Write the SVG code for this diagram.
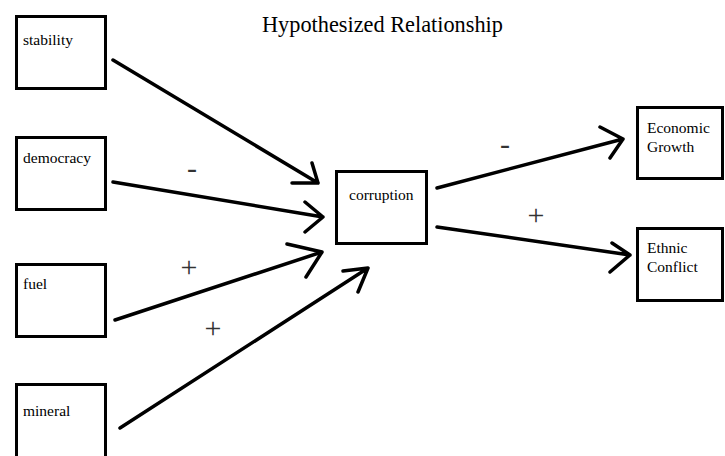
<svg xmlns="http://www.w3.org/2000/svg" width="725" height="456" viewBox="0 0 725 456">
<style>
  .box{fill:#fff;stroke:#000;stroke-width:3}
  .lbl{font-family:"Liberation Serif","Times New Roman",serif;font-size:15.5px;fill:#000}
  .title{font-family:"Liberation Serif","Times New Roman",serif;font-size:22.3px;fill:#000}
  .sign{font-family:"Liberation Serif","Times New Roman",serif;font-size:30px;font-weight:300;fill:#333;text-anchor:middle}
  .arr{fill:none;stroke:#000;stroke-width:3.5;stroke-linecap:round;stroke-linejoin:round}
</style>
<rect width="725" height="456" fill="#fff"/>
<text class="title" x="262" y="32">Hypothesized Relationship</text>
<g id="stability"><rect class="box" x="16.5" y="16.5" width="89" height="72"/><text class="lbl" x="23" y="45">stability</text></g>
<g id="democracy"><rect class="box" x="16.5" y="137.5" width="89" height="72"/><text class="lbl" x="23" y="163">democracy</text></g>
<g id="fuel"><rect class="box" x="16.5" y="264.5" width="89" height="72"/><text class="lbl" x="23" y="289">fuel</text></g>
<g id="mineral"><rect class="box" x="16.5" y="384.5" width="89" height="80"/><text class="lbl" x="23" y="416">mineral</text></g>
<g id="corruption"><rect class="box" x="336.5" y="171.5" width="90" height="72"/><text class="lbl" x="349" y="200">corruption</text></g>
<g id="economic-growth"><rect class="box" x="637.5" y="107.5" width="85" height="71"/><text class="lbl" x="647" y="133">Economic</text><text class="lbl" x="647" y="152">Growth</text></g>
<g id="ethnic-conflict"><rect class="box" x="637.5" y="228.5" width="85" height="72"/><text class="lbl" x="647" y="253">Ethnic</text><text class="lbl" x="647" y="272">Conflict</text></g>
<g id="connectors">
  <path class="arr" d="M113,60 L318,183 M312,163 L318,183 L292,183"/>
  <path class="arr" d="M113,182 L323,217 M305,202 L323,217 L305,232"/>
  <path class="arr" d="M115,320 L322,252 M287,244 L322,252 L306,277"/>
  <path class="arr" d="M120,428 L368,268 M343,271 L368,268 L358,292"/>
  <path class="arr" d="M437,188 L623,139 M600,127 L623,139 L610,158"/>
  <path class="arr" d="M437,227 L630,255 M612,243 L630,255 L610,272"/>
</g>
<g id="signs">
  <text class="sign" x="192" y="178">-</text>
  <text class="sign" x="189" y="277">+</text>
  <text class="sign" x="213" y="338">+</text>
  <text class="sign" x="505" y="154">-</text>
  <text class="sign" x="536" y="225">+</text>
</g>
</svg>
